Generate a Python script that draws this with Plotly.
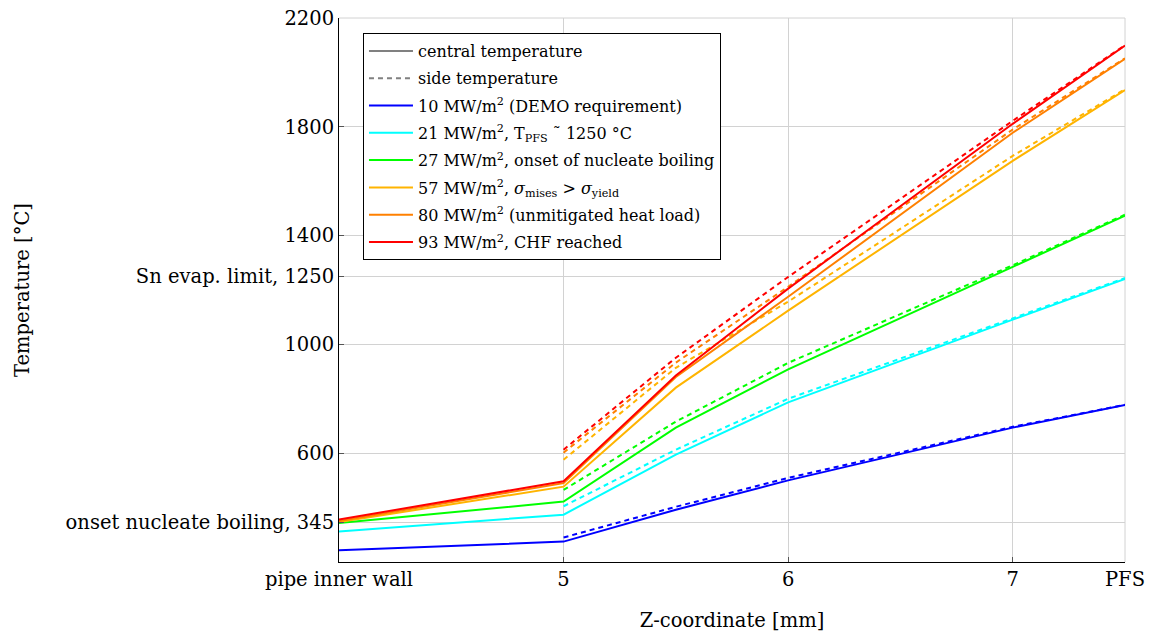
import plotly.graph_objects as go

# x positions (mm); 4 = pipe inner wall, 7.5 = PFS
x_central = [4.0, 5.0, 5.5, 6.0, 7.0, 7.5]
x_side = [5.0, 5.5, 6.0, 7.0, 7.5]

labels = [
    "10 MW/m<sup>2</sup> (DEMO requirement)",
    "21 MW/m<sup>2</sup>, T<sub>PFS</sub> ˜ 1250 °C",
    "27 MW/m<sup>2</sup>, onset of nucleate boiling",
    "57 MW/m<sup>2</sup>, <i>σ</i><sub>mises</sub> > <i>σ</i><sub>yield</sub>",
    "80 MW/m<sup>2</sup> (unmitigated heat load)",
    "93 MW/m<sup>2</sup>, CHF reached",
]
colors = ["#0000ff", "#00ffff", "#00ff00", "#ffb400", "#ff8000", "#ff0000"]

central_10 = [243, 275, 392, 500, 694, 777]
central_21 = [312, 374, 595, 787, 1091, 1241]
central_27 = [343, 422, 694, 908, 1285, 1473]
central_57 = [347, 477, 841, 1124, 1675, 1935]
central_80 = [351, 490, 880, 1175, 1778, 2050]
central_93 = [356, 497, 886, 1205, 1811, 2099]

side_10 = [290, 403, 509, 697, 778]
side_21 = [405, 613, 800, 1096, 1244]
side_27 = [465, 716, 932, 1291, 1477]
side_57 = [576, 914, 1157, 1693, 1938]
side_80 = [602, 933, 1212, 1790, 2052]
side_93 = [613, 951, 1248, 1822, 2100]

central = [central_10, central_21, central_27, central_57, central_80, central_93]
side = [side_10, side_21, side_27, side_57, side_80, side_93]

x_tickvals = [4, 5, 6, 7, 7.5]
x_ticktext = ["pipe inner wall", "5", "6", "7", "PFS"]
y_tickvals = [345, 600, 1000, 1250, 1400, 1800, 2200]
y_ticktext = ["onset nucleate boiling, 345", "600", "1000", "Sn evap. limit, 1250",
              "1400", "1800", "2200"]

FONT = "DejaVu Serif"
FS = 19.5
fig = go.Figure()

fig.add_trace(go.Scatter(x=[None], y=[None], mode="lines", name="central temperature",
                         legendgroup="c", line=dict(color="#808080", width=2)))
fig.add_trace(go.Scatter(x=[None], y=[None], mode="lines", name="side temperature",
                         legendgroup="s",
                         line=dict(color="#808080", width=2, dash="5px,4px")))

for i, (lab, col, yc, ys) in enumerate(zip(labels, colors, central, side)):
    fig.add_trace(go.Scatter(x=x_side, y=ys, mode="lines", showlegend=False,
                             legendgroup=f"g{i}",
                             line=dict(color=col, width=2, dash="5px,4px"),
                             hoverinfo="skip"))
    fig.add_trace(go.Scatter(x=x_central, y=yc, mode="lines", name=lab,
                             legendgroup=f"g{i}",
                             line=dict(color=col, width=2)))

fig.update_layout(
    width=1153, height=635,
    margin=dict(l=339, r=28, t=18, b=73),
    paper_bgcolor="white", plot_bgcolor="white",
    font=dict(family=FONT, size=FS, color="black"),
    showlegend=True,
    legend=dict(x=0.0305, y=0.9724, xanchor="left", yanchor="top",
                bgcolor="white", bordercolor="black", borderwidth=1,
                font=dict(family=FONT, size=16, color="black"),
                tracegroupgap=3.5, itemwidth=44),
)
fig.update_xaxes(range=[4, 7.5], tickvals=x_tickvals, ticktext=x_ticktext,
                 showgrid=True, gridcolor="#d2d2d2", gridwidth=1,
                 showline=True, linecolor="black", linewidth=1,
                 ticks="inside", ticklen=5, tickcolor="#555555",
                 zeroline=False, automargin=False,
                 title=dict(text="Z-coordinate [mm]", standoff=22,
                            font=dict(family=FONT, size=FS)),
                 tickfont=dict(family=FONT, size=FS))
fig.update_yaxes(range=[200, 2200], tickvals=y_tickvals, ticktext=y_ticktext,
                 showgrid=True, gridcolor="#d2d2d2", gridwidth=1,
                 showline=True, linecolor="black", linewidth=1,
                 ticks="inside", ticklen=5, tickcolor="#555555",
                 zeroline=False, automargin=False,
                 title=dict(text="Temperature [°C]", standoff=30,
                            font=dict(family=FONT, size=FS)),
                 tickfont=dict(family=FONT, size=FS))

# frame lines at top and right (grid-coloured, as in the reference)
fig.add_shape(type="line", xref="paper", yref="paper", x0=0, x1=1, y0=1, y1=1,
              line=dict(color="#d2d2d2", width=1), layer="below")
fig.add_shape(type="line", xref="paper", yref="paper", x0=1, x1=1, y0=0, y1=1,
              line=dict(color="#d2d2d2", width=1), layer="below")

fig.write_html("out.html", config={"displayModeBar": False},
               post_script="document.body.style.margin='0px';")
